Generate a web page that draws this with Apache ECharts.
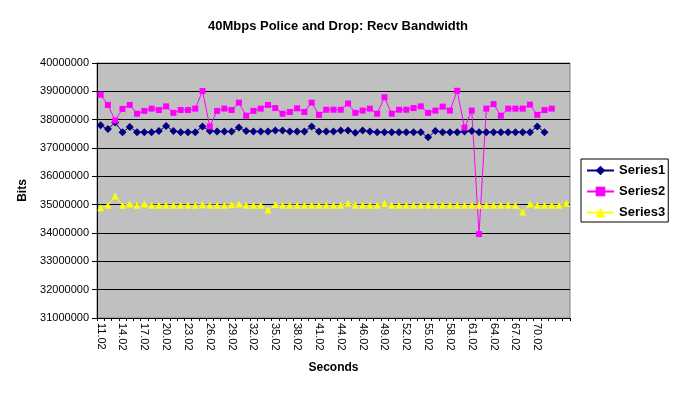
<!DOCTYPE html>
<html>
<head>
<meta charset="utf-8">
<script src="https://cdn.jsdelivr.net/npm/echarts@6/dist/echarts.min.js"></script>
<style>html,body{margin:0;padding:0;background:#fff}#c{width:676px;height:393px}</style>
</head>
<body>
<div id="c"></div>
<script>
var categories = ["11.02","12.02","13.02","14.02","15.02","16.02","17.02","18.02","19.02","20.02",
"21.02","22.02","23.02","24.02","25.02","26.02","27.02","28.02","29.02","30.02",
"31.02","32.02","33.02","34.02","35.02","36.02","37.02","38.02","39.02","40.02",
"41.02","42.02","43.02","44.02","45.02","45.52","46.02","47.02","48.02","49.02",
"50.02","51.02","52.02","53.02","54.02","55.02","56.02","57.02","58.02","59.02",
"60.02","61.02","62.02","63.02","64.02","65.02","66.02","67.02","68.02","69.02",
"70.02","","","",""];

var series1 = [37800000,37670000,37900000,37560000,37740000,37560000,37560000,37560000,37600000,37780000,
37600000,37560000,37560000,37560000,37760000,37600000,37580000,37580000,37580000,37720000,
37600000,37580000,37580000,37580000,37620000,37620000,37580000,37580000,37580000,37760000,
37580000,37580000,37580000,37620000,37620000,37540000,37620000,37580000,37560000,37560000,
37560000,37560000,37560000,37560000,37560000,37380000,37600000,37560000,37560000,37560000,
37580000,37600000,37560000,37560000,37560000,37560000,37560000,37560000,37560000,37560000,
37760000,37560000];

var series2 = [38880000,38520000,37970000,38380000,38520000,38210000,38310000,38390000,38340000,38470000,
38240000,38340000,38340000,38390000,39010000,37760000,38310000,38390000,38340000,38600000,
38140000,38310000,38390000,38520000,38410000,38210000,38270000,38400000,38270000,38600000,
38170000,38350000,38350000,38350000,38570000,38240000,38320000,38390000,38210000,38790000,
38210000,38350000,38350000,38410000,38470000,38240000,38320000,38460000,38320000,39020000,
37720000,38320000,33960000,38390000,38550000,38140000,38390000,38390000,38390000,38530000,
38170000,38340000,38390000];

var series3 = [34890000,34980000,35310000,34980000,35020000,34980000,35020000,34980000,34980000,34980000,
34980000,34980000,34980000,34980000,35000000,34980000,34980000,34980000,35000000,35020000,
34980000,34980000,34980000,34810000,35010000,34980000,34980000,34980000,34980000,34980000,
34980000,34980000,34980000,34980000,35050000,34980000,34980000,34980000,34980000,35050000,
34980000,34980000,34980000,34980000,34980000,34980000,34980000,34980000,34980000,34980000,
34980000,34980000,34980000,34980000,34980000,34980000,34980000,34980000,34740000,35020000,
34980000,34980000,34980000,34980000,35050000];

var yMin = 31000000, yMax = 40000000, yStep = 1000000;
var FONT = 'Arial, "Liberation Sans", sans-serif';

var chart = echarts.init(document.getElementById('c'), null, {renderer: 'canvas'});
chart.setOption({
  animation: false,
  backgroundColor: '#ffffff',
  title: {
    text: '40Mbps Police and Drop: Recv Bandwidth',
    left: 'center', top: 15,
    textStyle: {fontFamily: FONT, fontSize: 13, fontWeight: 'bold', color: '#000'}
  },
  legend: {
    orient: 'vertical', left: 581, top: 159,
    itemWidth: 27, itemHeight: 12, itemGap: 8,
    padding: [5, 3, 3, 5],
    backgroundColor: '#fff', borderColor: '#000', borderWidth: 1,
    textStyle: {fontFamily: FONT, fontSize: 13, fontWeight: 'bold', color: '#000'},
    data: ['Series1', 'Series2', 'Series3']
  },
  grid: {
    left: 97, right: 106, top: 63, bottom: 75,
    show: true, backgroundColor: '#c0c0c0', borderColor: '#808080', borderWidth: 1
  },
  xAxis: {
    type: 'category', data: categories, boundaryGap: true,
    name: 'Seconds', nameLocation: 'middle', nameGap: 44,
    nameTextStyle: {fontFamily: FONT, fontSize: 12, fontWeight: 'bold', color: '#000'},
    axisLine: {lineStyle: {color: '#000', width: 1}},
    axisTick: {show: true, interval: 0, length: 3, lineStyle: {color: '#000'}},
    axisLabel: {interval: 2, rotate: -90, margin: 5, fontFamily: FONT, fontSize: 11, color: '#000'},
    splitLine: {show: false}
  },
  yAxis: {
    type: 'value', min: yMin, max: yMax, interval: yStep,
    name: 'Bits', nameLocation: 'middle', nameGap: 58,
    nameTextStyle: {fontFamily: FONT, fontSize: 12, fontWeight: 'bold', color: '#000'},
    axisLine: {show: true, lineStyle: {color: '#000', width: 1}},
    axisTick: {show: true, length: 5, lineStyle: {color: '#000'}},
    axisLabel: {margin: 8, fontFamily: FONT, fontSize: 11, color: '#000', formatter: function (v) { return String(v); }},
    splitLine: {show: true, lineStyle: {color: '#000', width: 1}}
  },
  series: [
    {name: 'Series1', type: 'line', data: series1, symbol: 'diamond', symbolSize: 8, showAllSymbol: true,
     itemStyle: {color: '#000080'}, lineStyle: {color: '#000080', width: 1}},
    {name: 'Series2', type: 'line', data: series2, symbol: 'rect', symbolSize: 6, showAllSymbol: true,
     itemStyle: {color: '#ff00ff'}, lineStyle: {color: '#ff00ff', width: 1}},
    {name: 'Series3', type: 'line', data: series3, symbol: 'triangle', symbolSize: 7, showAllSymbol: true,
     itemStyle: {color: '#ffff00'}, lineStyle: {color: '#ffff00', width: 1}}
  ]
});
</script>
</body>
</html>
